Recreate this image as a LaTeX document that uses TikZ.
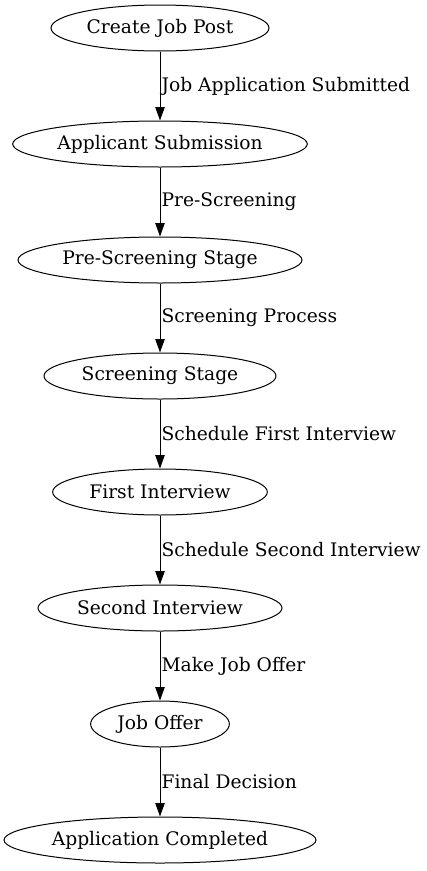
\documentclass[tikz,border=0pt]{standalone}
\usepackage{fontspec}
\setmainfont{DejaVu Serif}
\usetikzlibrary{shapes.geometric,arrows.meta}

\tikzset{
    etapa/.style={draw, ellipse, line width=0.75pt, inner sep=0pt, minimum height=34.5pt, font=\fontsize{14}{16}\selectfont},
    seta/.style={-{Triangle[length=10pt,width=7pt]}, line width=0.75pt},
    rotulo/.style={midway, anchor=west, inner sep=0.8pt, font=\fontsize{14}{16}\selectfont}
}

\begin{document}
\begin{tikzpicture}[x=0.75pt, y=-0.75pt]

    % moldura (mesmo tamanho da figura original)
    \useasboundingbox (0,0) rectangle (426,871);

    \def\xc{160} % eixo central

    % --- Etapas do processo ---
    \node[etapa, minimum width=163.5pt] (post)      at (\xc, 28)  {Create Job Post};
    \node[etapa, minimum width=221pt]   (submissao) at (\xc, 144) {Applicant Submission};
    \node[etapa, minimum width=213pt]   (prescreen) at (\xc, 260) {Pre-Screening Stage};
    \node[etapa, minimum width=174pt]   (screen)    at (\xc, 376) {Screening Stage};
    \node[etapa, minimum width=161pt]   (primeira)  at (\xc, 492) {First Interview};
    \node[etapa, minimum width=183pt]   (segunda)   at (\xc, 608) {Second Interview};
    \node[etapa, minimum width=104pt]   (oferta)    at (\xc, 724) {Job Offer};
    \node[etapa, minimum width=234pt]   (fim)       at (\xc, 840) {Application Completed};

    % --- Transicoes ---
    \draw[seta] (post) -- (submissao) node[rotulo] {Job Application Submitted};
    \draw[seta] (submissao) -- (prescreen) node[rotulo] {Pre-Screening};
    \draw[seta] (prescreen) -- (screen) node[rotulo] {Screening Process};
    \draw[seta] (screen) -- (primeira) node[rotulo] {Schedule First Interview};
    \draw[seta] (primeira) -- (segunda) node[rotulo] {Schedule Second Interview};
    \draw[seta] (segunda) -- (oferta) node[rotulo] {Make Job Offer};
    \draw[seta] (oferta) -- (fim) node[rotulo] {Final Decision};

\end{tikzpicture}
\end{document}
